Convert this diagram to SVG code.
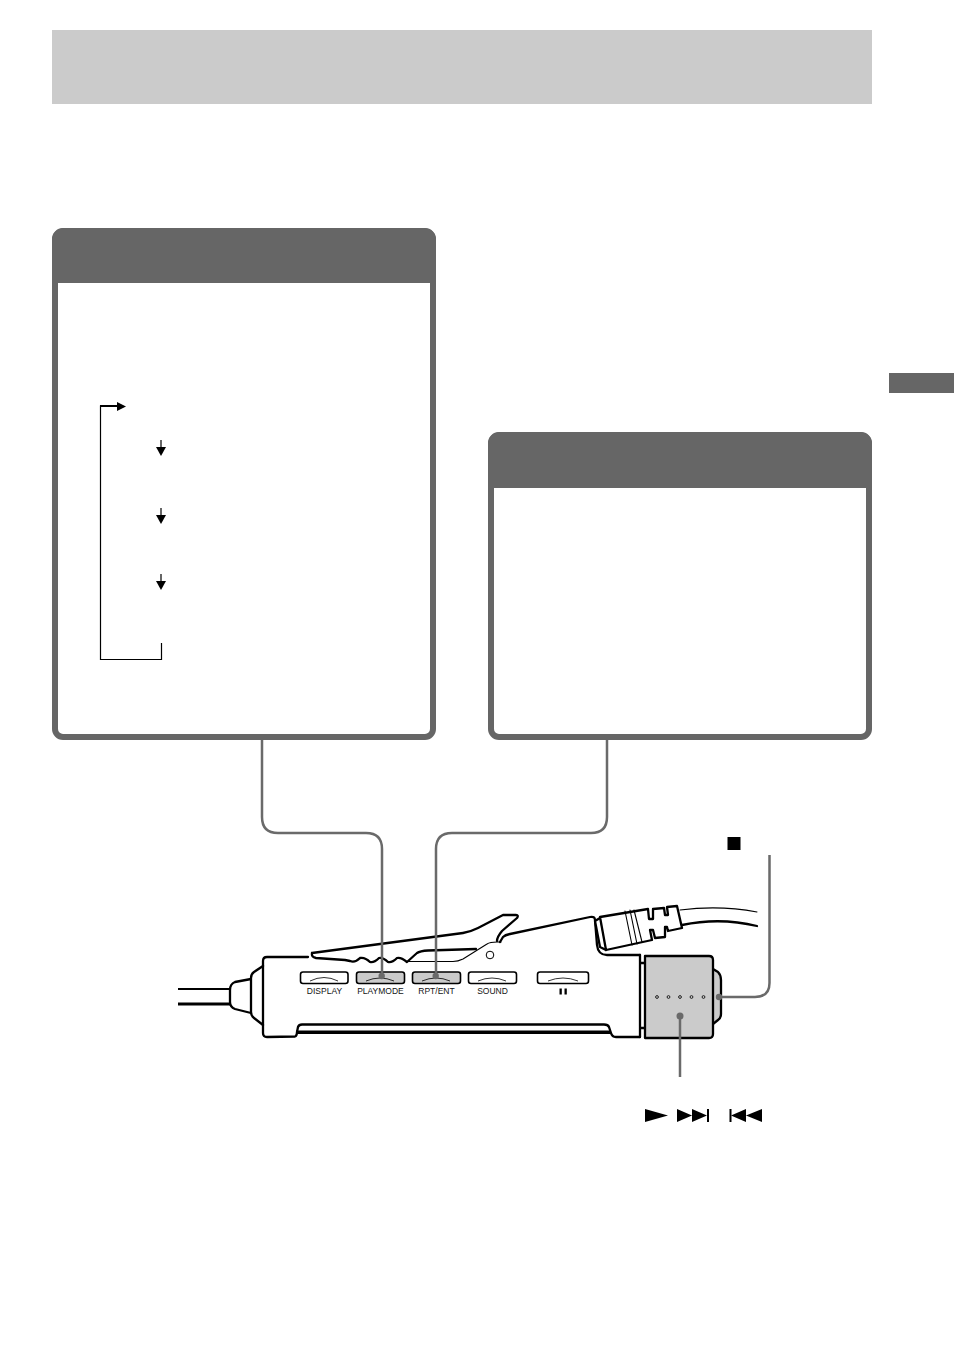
<svg xmlns="http://www.w3.org/2000/svg" width="954" height="1357" viewBox="0 0 954 1357">
<style>
.panel{fill:#fff;stroke:#666;stroke-width:6}
.head{fill:#666}
.conn{fill:none;stroke:#6a6a6a;stroke-width:2.500}
.dot{fill:#6a6a6a}
.ol{stroke:#000;stroke-width:2.300;stroke-linejoin:round;stroke-linecap:round}
.th{fill:none;stroke:#000;stroke-width:1.100;stroke-linejoin:round;stroke-linecap:round}
.bt{fill:#fff;stroke:#000;stroke-width:1.600}
.btg{fill:#cbcbcb;stroke:#000;stroke-width:1.600}
.cv{fill:none;stroke:#000;stroke-width:.8}
.lb{font-family:"Liberation Sans",Arial,sans-serif;font-size:8.500px;text-anchor:middle;fill:#111;opacity:.99}
.flow{fill:none;stroke:#000;stroke-width:1.200}
</style>
<rect width="954" height="1357" fill="#fff"/>
<rect id="title-bar" x="52" y="30" width="820" height="74" fill="#cbcbcb"/>
<rect id="side-tab" x="889" y="373" width="65" height="20" fill="#666"/>

<g id="panel-playmode">
<rect class="panel" x="55" y="231" width="378" height="506" rx="8"/>
<path class="head" d="M52 283V240a12 12 0 0 1 12-12H424a12 12 0 0 1 12 12V283Z"/>
<path class="flow" d="M161.500 643V659.500H100.500V406H118"/>
<path d="M100 405H118V407H100Z"/>
<path d="M117 402L126 406.500L117 411Z"/>
<path class="flow" d="M161 440V449"/><path d="M156 447H166L161 456Z"/>
<path class="flow" d="M161 508V517"/><path d="M156 515H166L161 524Z"/>
<path class="flow" d="M161 574V583"/><path d="M156 581H166L161 590Z"/>
</g>

<g id="panel-repeat">
<rect class="panel" x="491" y="435" width="378" height="302" rx="8"/>
<path class="head" d="M488 488V444a12 12 0 0 1 12-12H860a12 12 0 0 1 12 12V488Z"/>
</g>

<g id="device">
<path d="M178 988H232V990H178Z"/>
<path d="M178 1002.500H232V1005.500H178Z"/>
<path class="ol" fill="#fff" d="M251 979L235 982Q230 984 230 990V1002Q230 1007 235 1009L251 1013"/>
<path class="ol" fill="#fff" d="M263 966L254 972Q251 974 251 978V1012Q251 1016 254 1018L263 1025"/>
<path class="ol" fill="none" d="M308 957H267Q263 957 263 961V1033Q263 1037 267 1037L295 1036.500Q297 1036 297 1032L298 1027Q299 1024.500 302 1024.500H604Q608 1024.500 609 1027L611 1033Q612 1037 616 1037H640"/>
<path d="M296 1030.500H610.500L611.500 1034H296Z"/>
<path class="ol" fill="none" d="M312 953L463 933Q470 932 478 928L503 915H516Q519 915 517 918L502 931Q497 937 497 941"/>
<path class="ol" fill="none" d="M312 953Q311 957 316 958L345 960L350 961Q355 963 360 958Q365 957 370 962Q374 963 379 958Q383 957 388 962Q392 963 397 958Q401 957 407 962L417 953Q420 951 428 950.500L476 949"/>
<path class="th" d="M408 961.500H453Q458 961.500 463 959L487 944Q490 942 497 942H501"/>
<path class="ol" fill="none" d="M500 942L503 937Q505 935 510 934L590 917Q595 916 595 920L597 945Q598 955 607 955H640"/>
<circle cx="490" cy="955" r="3.800" fill="#fff" stroke="#000" stroke-width="1"/>
<path class="ol" fill="none" stroke-width="1.500" d="M640 955V1037M640 963H645M640 1028H645"/>

<g id="btn-display"><rect class="bt" x="300.500" y="972" width="47.500" height="11.500" rx="2.500"/><path class="cv" d="M310 981Q324 974 338 981"/><text class="lb" x="324.500" y="994">DISPLAY</text></g>
<g id="btn-playmode"><rect class="btg" x="356.500" y="972" width="48" height="11.500" rx="2.500"/><path class="cv" d="M366 981Q380 975 394 981"/><text class="lb" x="380.500" y="994">PLAYMODE</text></g>
<g id="btn-rpt"><rect class="btg" x="412.500" y="972" width="48" height="11.500" rx="2.500"/><path class="cv" d="M422 981Q436 975 450 981"/><text class="lb" x="436.500" y="994">RPT/ENT</text></g>
<g id="btn-sound"><rect class="bt" x="468.500" y="972" width="48" height="11.500" rx="2.500"/><path class="cv" d="M478 981Q492 975 506 981"/><text class="lb" x="492.500" y="994">SOUND</text></g>
<g id="btn-pause"><rect class="bt" x="537.500" y="972" width="51" height="11.500" rx="2.500"/><path class="cv" d="M548 981Q563 975 578 981"/><rect x="559.500" y="988.500" width="2.300" height="6"/><rect x="564.500" y="988.500" width="2.300" height="6"/></g>

<g id="plug">
<path class="ol" fill="#fff" d="M600 918L595 921L600 947L606 950"/>
<path class="th" d="M600 918L606 949"/>
<path class="ol" fill="#fff" d="M600 917L648 909L649 919H653L653 909L664 908L665 915H668L667 907L677 906L682 928L668 931L667 927H665L665 937L655 938L653 930H650L652 940L606 950Z"/>
<path class="th" d="M625 911L632 945M630 910L637 944M634 910L642 942"/>
<path class="th" stroke-width="1.500" d="M680 910Q720 905 757 912"/>
<path class="ol" fill="none" d="M682 925Q720 917 757 926"/>
</g>

<g id="dial">
<path class="ol" fill="#cbcbcb" stroke-width="1.800" d="M713 969L718 972Q721 975 721 980V1014Q721 1018 718 1020L713 1024"/>
<path class="ol" fill="#cbcbcb" d="M645 956H709Q713 956 713 960V1034Q713 1038 709 1038H645Z"/>
<g fill="none" stroke="#222" stroke-width="1"><circle cx="657" cy="997" r="1.400"/><circle cx="668.500" cy="997" r="1.400"/><circle cx="680" cy="997" r="1.400"/><circle cx="691.500" cy="997" r="1.400"/><circle cx="703.500" cy="997" r="1.400"/></g>
</g>
</g>

<g id="connectors">
<path class="conn" d="M262 740V817Q262 833 278 833H366Q382 833 382 849V976"/>
<circle class="dot" cx="381.700" cy="976" r="3.200"/>
<path class="conn" d="M607 740V817Q607 833 591 833H452Q436 833 436 849V976"/>
<circle class="dot" cx="435.700" cy="976" r="3.200"/>
<path class="conn" d="M769.500 855V983Q769.500 997 755 997H719"/>
<circle class="dot" cx="719" cy="997" r="3.200"/>
<path class="conn" d="M680 1016V1077"/>
<circle class="dot" cx="680" cy="1016" r="3.500"/>
</g>

<g id="symbols">
<rect x="727.500" y="837" width="13" height="13"/>
<path d="M645 1109L668 1115.500L645 1122Z"/>
<path d="M677 1109L692 1115.500L677 1122ZM692 1109L707 1115.500L692 1122Z"/><rect x="707" y="1109" width="2" height="13"/>
<rect x="729.500" y="1109" width="2" height="13"/><path d="M746 1109L731 1115.500L746 1122ZM762 1109L746 1115.500L762 1122Z"/>
</g>
</svg>
